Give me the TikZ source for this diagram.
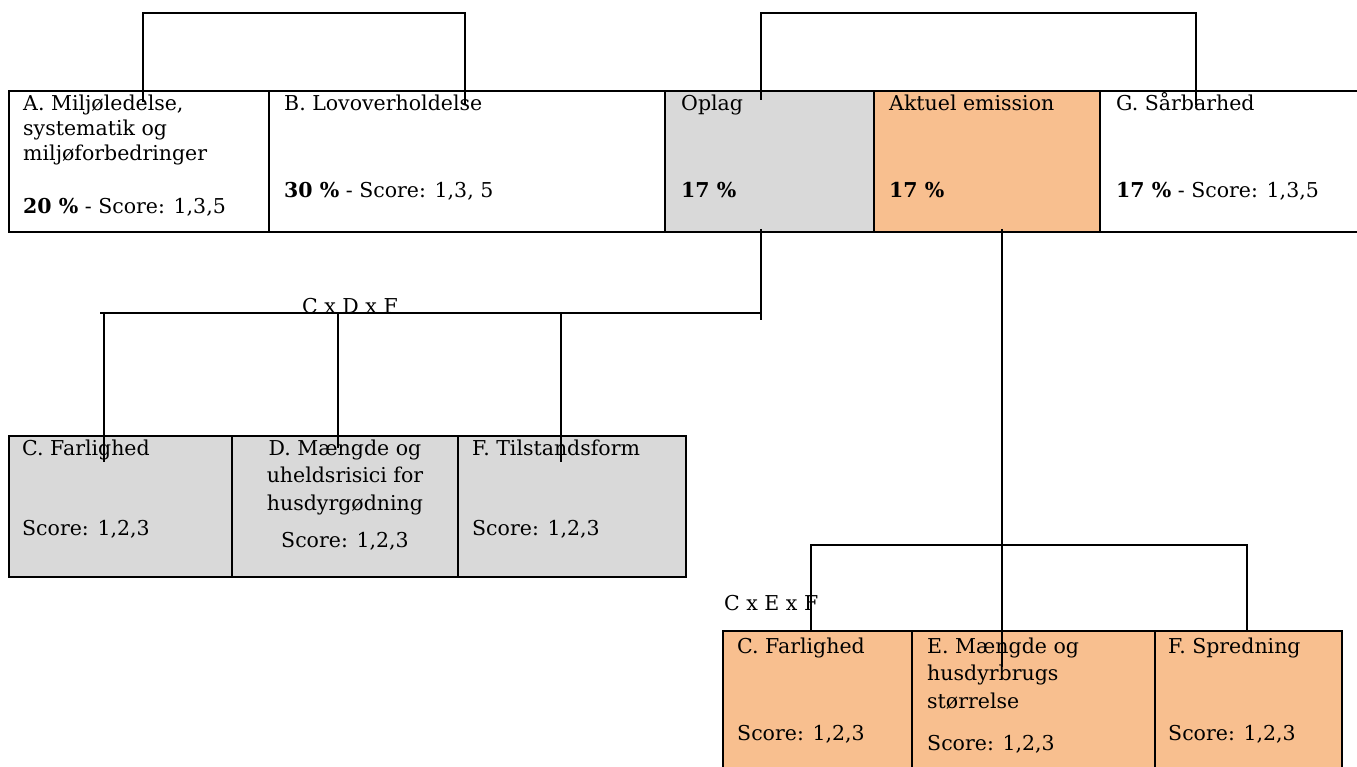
\documentclass[tikz,border=0pt]{standalone}
\usepackage{fontspec}
\setmainfont{DejaVu Serif}
\usetikzlibrary{positioning}
\definecolor{oplaggray}{RGB}{217,217,217}
\definecolor{emisorange}{RGB}{248,191,143}
\begin{document}
\begin{tikzpicture}[x=1pt,y=-1pt,
    box/.style={draw,line width=2.4pt,outer sep=0pt,inner sep=0pt,anchor=north west},
    top box/.style={box,minimum height=141},
    sub box/.style={box,minimum height=141},
    low box/.style={box,minimum height=150},
    txt/.style={anchor=base west,inner sep=0pt,align=left,font=\fontsize{20.5}{25}\selectfont},
    subtxt/.style={txt,font=\fontsize{20.5}{27.5}\selectfont},
    link/.style={line width=1.6pt}]
\useasboundingbox (0,0) rectangle (1357,767);

% top row
\node[top box,minimum width=260] (A) at (9,91) {};
\node[top box,minimum width=396] (B) [right=0pt of A] {};
\node[top box,minimum width=209,fill=oplaggray] (O) [right=0pt of B] {};
\node[top box,minimum width=226,fill=emisorange] (E) [right=0pt of O] {};
\node[top box,minimum width=270] (G) [right=0pt of E] {};

% multi-line texts sit on their last line
\node[txt] (At) at (23,161) {A. Miljøledelse,\\systematik og\\miljøforbedringer};
\node[txt] (As) at (23,214) {\textbf{20 \%} - Score: 1,3,5};
\node[txt] (Bt) at (284,111) {B. Lovoverholdelse};
\node[txt] (Bs) at (284,198) {\textbf{30 \%} - Score: 1,3, 5};
\node[txt] (Ot) at (681,111) {Oplag};
\node[txt] (Os) at (681,198) {\textbf{17 \%}};
\node[txt] (Et) at (889,111) {Aktuel emission};
\node[txt] (Es) at (889,198) {\textbf{17 \%}};
\node[txt] (Gt) at (1116,111) {G. Sårbarhed};
\node[txt] (Gs) at (1116,198) {\textbf{17 \%} - Score: 1,3,5};

% oplag row
\node[sub box,minimum width=223,fill=oplaggray] (C1) at (9,436) {};
\node[sub box,minimum width=226,fill=oplaggray] (D1) [right=0pt of C1] {};
\node[sub box,minimum width=228,fill=oplaggray] (F1) [right=0pt of D1] {};

\node[subtxt] (C1t) at (22,455) {C. Farlighed};
\node[subtxt] (C1s) at (22,535) {Score: 1,2,3};
\node[subtxt,anchor=base,align=center] (D1t) at (345,510) {D. Mængde og\\uheldsrisici for\\husdyrgødning};
\node[subtxt,anchor=base] (D1s) at (345,547) {Score: 1,2,3};
\node[subtxt] (F1t) at (472,455) {F. Tilstandsform};
\node[subtxt] (F1s) at (472,535) {Score: 1,2,3};

% emission row
\node[low box,minimum width=189,fill=emisorange] (C2) at (723,631) {};
\node[low box,minimum width=243,fill=emisorange] (E2) [right=0pt of C2] {};
\node[low box,minimum width=187,fill=emisorange] (F2) [right=0pt of E2] {};

\node[subtxt] (C2t) at (737,653) {C. Farlighed};
\node[subtxt] (C2s) at (737,740) {Score: 1,2,3};
\node[subtxt] (E2t) at (927,708) {E. Mængde og\\husdyrbrugs\\størrelse};
\node[subtxt] (E2s) at (927,750) {Score: 1,2,3};
\node[subtxt] (F2t) at (1168,653) {F. Spredning};
\node[subtxt] (F2s) at (1168,740) {Score: 1,2,3};

\node[txt] (cdf) at (302,313) {C x D x F};
\node[txt] (cef) at (724,610) {C x E x F};

% connectors
\coordinate (jA) at (143,102);
\coordinate (kA) at (143,13);
\coordinate (jB) at (465,105);
\coordinate (jO) at (761,100);
\coordinate (kO) at (761,13);
\coordinate (jG) at (1196,105);
\coordinate (bO) at (761,229);
\coordinate (eO) at (761,320);
\coordinate (hL) at (100,313);
\coordinate (hR) at (761,313);
\coordinate (dC) at (104,462);
\coordinate (dD) at (338,448);
\coordinate (dF) at (561,462);
\coordinate (bE) at (1002,229);
\coordinate (eE) at (1002,667);
\coordinate (dC2) at (811,631);
\coordinate (dF2) at (1247,631);

\draw[link] (jA) -- (kA) -| (jB);
\draw[link] (jO) -- (kO) -| (jG);
\draw[link] (bO) -- (eO);
\draw[link] (hL) -- (hR);
\draw[link] (dC |- hL) -- (dC);
\draw[link] (dD |- hL) -- (dD);
\draw[link] (dF |- hL) -- (dF);
\draw[link] (bE) -- (eE);
\draw[link] (dC2) |- (dF2 |- 0,545) -- (dF2);
\end{tikzpicture}
\end{document}
